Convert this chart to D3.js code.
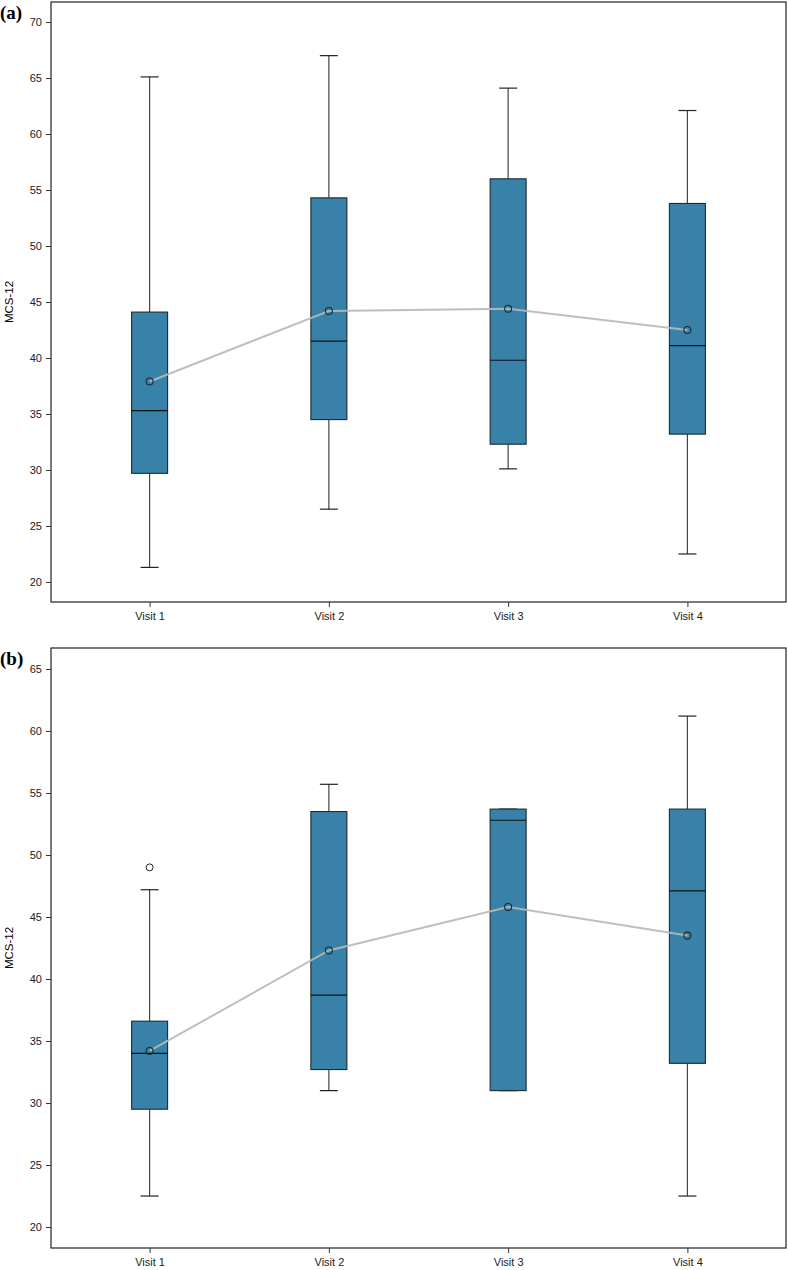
<!DOCTYPE html>
<html><head><meta charset="utf-8">
<script src="https://cdn.jsdelivr.net/npm/d3@7"></script>
<style>body{margin:0;background:#fff}svg{display:block}</style>
</head><body>
<svg id="c" width="788" height="1270"></svg>
<script>
const categories = ["Visit 1","Visit 2","Visit 3","Visit 4"];
// panel (a)
const aLow   = [21.3, 26.5, 30.1, 22.5];
const aQ1    = [29.7, 34.5, 32.3, 33.2];
const aMed   = [35.3, 41.5, 39.8, 41.1];
const aQ3    = [44.1, 54.3, 56.0, 53.8];
const aHigh  = [65.1, 67.0, 64.1, 62.1];
const aMean  = [37.9, 44.2, 44.4, 42.5];
const aOut   = [[],[],[],[]];
const aTicks = [20,25,30,35,40,45,50,55,60,65,70];
// panel (b)
const bLow   = [22.5, 31.0, 31.0, 22.5];
const bQ1    = [29.5, 32.7, 31.0, 33.2];
const bMed   = [34.0, 38.7, 52.8, 47.1];
const bQ3    = [36.6, 53.5, 53.7, 53.7];
const bHigh  = [47.2, 55.7, 53.7, 61.2];
const bMean  = [34.2, 42.3, 45.8, 43.5];
const bOut   = [[49.0],[],[],[]];
const bTicks = [20,25,30,35,40,45,50,55,60,65];

const svg = d3.select("#c");
const font = "Liberation Sans, Arial, sans-serif";

function panel(o){
  const {top,bottom,dom,label,low,q1,med,q3,high,mean,outs,ticks} = o;
  const left=51, right=786;
  const y = d3.scaleLinear().domain(dom).range([bottom,top]);
  const x = d3.scalePoint().domain(categories).range([left,right]).padding(0.55);
  const g = svg.append("g");
  g.append("rect").attr("x",left).attr("y",top).attr("width",right-left).attr("height",bottom-top)
    .attr("fill","none").attr("stroke","#222").attr("stroke-width",1.2);
  const ya = g.append("g").attr("transform",`translate(${left},0)`)
    .call(d3.axisLeft(y).tickValues(ticks).tickSize(5).tickPadding(4));
  const xa = g.append("g").attr("transform",`translate(0,${bottom})`)
    .call(d3.axisBottom(x).tickSize(5).tickPadding(5));
  [ya,xa].forEach(a=>{a.select(".domain").remove();
    a.selectAll("line").attr("stroke","#333");
    a.selectAll("text").attr("font-family",font).attr("font-size",11).attr("fill","#222");});
  g.append("text").attr("transform",`translate(13,${(top+bottom)/2}) rotate(-90)`)
    .attr("text-anchor","middle").attr("font-family",font).attr("font-size",11.5).text("MCS-12");
  g.append("text").attr("x",0).attr("y",top+17).attr("font-family","Liberation Serif, Times New Roman, serif")
    .attr("font-weight","bold").attr("font-size",19).text(label);
  const bw=36, cw=18;
  categories.forEach((c,i)=>{
    const cx=x(c);
    g.append("line").attr("x1",cx).attr("x2",cx).attr("y1",y(high[i])).attr("y2",y(q3[i])).attr("stroke","#444").attr("stroke-width",1.2);
    g.append("line").attr("x1",cx).attr("x2",cx).attr("y1",y(low[i])).attr("y2",y(q1[i])).attr("stroke","#444").attr("stroke-width",1.2);
    [high[i],low[i]].forEach(v=>g.append("line").attr("x1",cx-cw/2).attr("x2",cx+cw/2).attr("y1",y(v)).attr("y2",y(v)).attr("stroke","#222").attr("stroke-width",1.2));
    g.append("rect").attr("x",cx-bw/2).attr("y",y(q3[i])).attr("width",bw).attr("height",Math.max(0.5,y(q1[i])-y(q3[i])))
      .attr("fill","#3882a9").attr("stroke","#1b2b33").attr("stroke-width",1.1);
    g.append("line").attr("x1",cx-bw/2).attr("x2",cx+bw/2).attr("y1",y(med[i])).attr("y2",y(med[i])).attr("stroke","#111").attr("stroke-width",1.2);
    outs[i].forEach(v=>g.append("circle").attr("cx",cx).attr("cy",y(v)).attr("r",3.5).attr("fill","none").attr("stroke","#222"));
  });
  g.append("path").datum(mean).attr("fill","none").attr("stroke","#b8b8b8").attr("stroke-width",2).attr("opacity",0.9)
    .attr("d",d3.line().x((d,i)=>x(categories[i])).y(d=>y(d)));
  g.selectAll(null).data(mean).join("circle").attr("cx",(d,i)=>x(categories[i])).attr("cy",d=>y(d))
    .attr("r",3.5).attr("fill","none").attr("stroke","#1b2b33").attr("stroke-width",1.1);
}
panel({top:2,bottom:602,dom:[18.21,71.79],label:"(a)",low:aLow,q1:aQ1,med:aMed,q3:aQ3,high:aHigh,mean:aMean,outs:aOut,ticks:aTicks});
panel({top:648,bottom:1248,dom:[18.31,66.69],label:"(b)",low:bLow,q1:bQ1,med:bMed,q3:bQ3,high:bHigh,mean:bMean,outs:bOut,ticks:bTicks});
</script>
</body></html>
